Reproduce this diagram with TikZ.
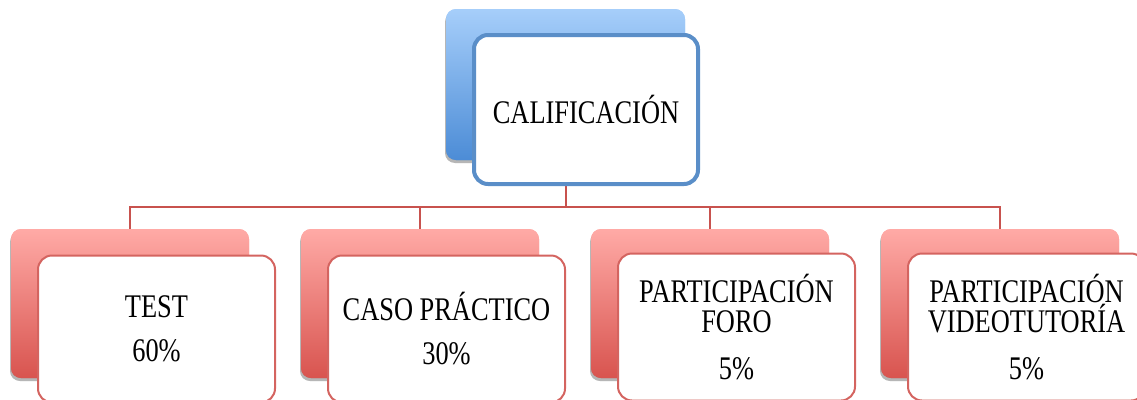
\documentclass[tikz,border=0pt]{standalone}
\usepackage{fontspec}
\setmainfont[FakeStretch=0.8]{Liberation Serif}
\usetikzlibrary{shadows}
\definecolor{redtop}{RGB}{255,170,166}
\definecolor{redbot}{RGB}{216,84,79}
\definecolor{bluetop}{RGB}{166,206,250}
\definecolor{bluebot}{RGB}{76,140,214}
\definecolor{redline}{RGB}{200,82,78}
\definecolor{redborder}{RGB}{212,100,96}
\definecolor{blueborder}{RGB}{90,142,200}
\tikzset{
  backbox/.style={rectangle, rounded corners=10pt, draw=none,
    drop shadow={shadow xshift=-1pt, shadow yshift=-3pt, opacity=0.35},
    minimum width=238pt, minimum height=149pt, inner sep=0pt},
  backred/.style={backbox, top color=redtop, bottom color=redbot},
  backblue/.style={backbox, top color=bluetop, bottom color=bluebot, minimum width=239pt, minimum height=151pt},
  frontbox/.style={rectangle, rounded corners=14pt, fill=white, align=center,
    font=\fontsize{33}{30}\selectfont, inner sep=0pt, text=black},
  frontred/.style={frontbox, draw=redborder, line width=2pt, minimum width=237pt, minimum height=147pt},
  frontblue/.style={frontbox, draw=blueborder, line width=4pt, minimum width=224pt, minimum height=149pt},
  conn/.style={draw=redline, line width=2pt}
}
\begin{document}
\begin{tikzpicture}[x=1pt,y=-1pt]
\useasboundingbox (0,0) rectangle (1137,399);
\clip (0,0) rectangle (1137,399);
% back boxes
\node[backblue] (cb) at (565.5,84.5) {};
\node[backred] (b1) at (130,303.5) {};
\node[backred] (b2) at (420,303.5) {};
\node[backred] (b3) at (710,303.5) {};
\node[backred] (b4) at (1000,303.5) {};
% connectors
\coordinate (hub) at (565.5,207);
\draw[conn] (cb.south) -- (hub);
\draw[conn] (hub) -| (b1.north);
\draw[conn] (hub) -| (b2.north);
\draw[conn] (hub) -| (b3.north);
\draw[conn] (hub) -| (b4.north);
% redraw back boxes over connector ends
\node[backred] at (130,303.5) {};
\node[backred] at (420,303.5) {};
\node[backred] at (710,303.5) {};
\node[backred] at (1000,303.5) {};
\node[backblue] at (565.5,84.5) {};
% front boxes
\node[frontblue] (cf) at (586,109.5) {CALIFICACIÓN};
\node[frontred] (f1) at (156.5,329) {TEST\\[14pt]60\%};
\node[frontred] (f2) at (446.5,329) {CASO PRÁCTICO\\[14pt]30\%};
\node[frontred] (f3) at (736.5,327) {PARTICIPACIÓN\\FORO\\[17pt]5\%};
\node[frontred] (f4) at (1026.5,327) {PARTICIPACIÓN\\VIDEOTUTORÍA\\[17pt]5\%};
\end{tikzpicture}
\end{document}
